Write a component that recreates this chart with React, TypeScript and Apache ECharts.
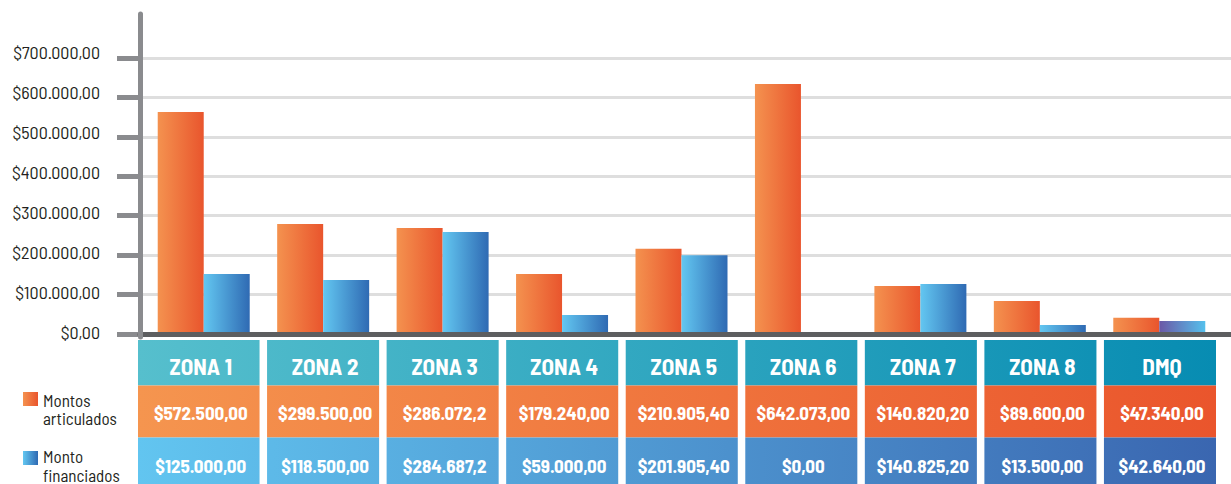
import React, { useEffect, useRef } from "react";
import * as echarts from "echarts";

// ---------- data ----------
const categories = ["ZONA 1", "ZONA 2", "ZONA 3", "ZONA 4", "ZONA 5", "ZONA 6", "ZONA 7", "ZONA 8", "DMQ"];
const seriesNames = ["Montos articulados", "Monto financiados"];
const legendLabels = ["Montos\narticulados", "Monto\nfinanciados"];

// bar heights as drawn in the picture
const articuladosBars = [563000, 279000, 269000, 152000, 216000, 634000, 122000, 84000, 41000];
const financiadosBars = [152000, 137000, 259000, 48000, 200000, 4000, 127000, 23000, 33000];

// table texts
const articuladosLabels = ["$572.500,00", "$299.500,00", "$286.072,2", "$179.240,00", "$210.905,40", "$642.073,00", "$140.820,20", "$89.600,00", "$47.340,00"];
const financiadosLabels = ["$125.000,00", "$118.500,00", "$284.687,2", "$59.000,00", "$201.905,40", "$0,00", "$140.825,20", "$13.500,00", "$42.640,00"];

const yMin = 0;
const yMax = 700000;
const yInterval = 100000;

// ---------- styles ----------
const FONT = "'Barlow Semi Condensed', 'Roboto Condensed', 'Liberation Sans Narrow', 'DejaVu Sans Condensed', 'Arial Narrow', sans-serif";
const TEXT_DARK = "#231f20";
const AXIS_GRAY = "#8a8b8e";
const BASE_DARK = "#5d5e60";
const GRID_GRAY = "#dedede";
const purpleBarIndices = [5, 8];

const hGrad = (a: string, b: string) =>
  new echarts.graphic.LinearGradient(0, 0, 1, 0, [
    { offset: 0, color: a },
    { offset: 1, color: b },
  ]);

const orangeBar = () => hGrad("#f4924f", "#e9552d");
const blueBar = () => hGrad("#63c7f1", "#2f6ab3");
const purpleBar = () => hGrad("#6b58a6", "#55c0ec");

function money(v: number): string {
  const s = Math.round(v).toString().replace(/\B(?=(\d{3})+(?!\d))/g, ".");
  return "$" + s + ",00";
}

export default function App() {
  const ref = useRef<HTMLDivElement>(null);

  useEffect(() => {
    if (!ref.current) return;
    const chart = echarts.init(ref.current, null, { renderer: "svg" });

    const rowColors = [
      ["#56bfcd", "#078cb2"],
      ["#f5954f", "#ea552c"],
      ["#62c5f0", "#3a66b0"],
    ];

    const renderTable = (params: any, api: any) => {
      const i = api.value(0);
      const cx = api.coord([i, 0])[0];
      const bw = api.size([1, 0])[0];
      const cs = params.coordSys;
      const left = i === 0 ? cx - bw / 2 - 2 : cx - bw / 2 + 7.5;
      const right = cx + bw / 2;
      const gx0 = cs.x - 2;
      const gx1 = cs.x + cs.width;
      const top = cs.y;
      const rowH = [45.5, 52, 50];
      const textDy = [25.5, 27, 27.5];
      const texts = [categories[i], articuladosLabels[i], financiadosLabels[i]];
      const sizes = [23, 19, 19];
      const children: any[] = [];
      let y = top;
      const tcx = (left + right) / 2;
      for (let r = 0; r < 3; r++) {
        children.push({
          type: "rect",
          shape: { x: left, y: y, width: right - left, height: rowH[r] },
          style: {
            fill: new echarts.graphic.LinearGradient(gx0, 0, gx1, 0, [
              { offset: 0, color: rowColors[r][0] },
              { offset: 1, color: rowColors[r][1] },
            ], true),
          },
        });
        children.push({
          type: "text",
          style: {
            text: texts[r],
            x: tcx + 2,
            y: y + textDy[r],
            fill: "#ffffff",
            fontFamily: FONT,
            fontWeight: "bold",
            fontSize: sizes[r],
            align: "center",
            verticalAlign: "middle",
          },
        });
        y += rowH[r];
      }
      return { type: "group", children };
    };

    const option: any = {
      animation: false,
      backgroundColor: "#ffffff",
      grid: [
        { left: 144, right: 12, top: 58, bottom: 150 },   // bars
        { left: 140, right: 0, top: 58, bottom: 150 },    // grid lines + baseline
        { left: 140, right: 0, top: 14, bottom: 147 },    // vertical axis line
        { left: 140, right: 15, top: 340, bottom: 0 },    // table
        { left: 140, right: 0, top: 51.5, bottom: 152 },  // y labels
      ],
      xAxis: [
        {
          type: "category",
          gridIndex: 0,
          data: categories,
          axisLine: { show: false },
          axisTick: { show: false },
          axisLabel: { show: false },
        },
        {
          type: "value",
          gridIndex: 1,
          min: 0,
          max: 1,
          offset: 3,
          z: 5,
          axisLine: { show: true, lineStyle: { color: BASE_DARK, width: 5 } },
          axisTick: { show: false },
          axisLabel: { show: false },
          splitLine: { show: false },
        },
        { type: "value", gridIndex: 2, min: 0, max: 1, show: false },
        { type: "category", gridIndex: 3, data: categories, show: false },
        { type: "value", gridIndex: 4, min: 0, max: 1, show: false },
      ],
      yAxis: [
        {
          type: "value",
          gridIndex: 0,
          min: yMin,
          max: yMax,
          interval: yInterval,
          show: false,
        },
        {
          type: "value",
          gridIndex: 1,
          min: yMin,
          max: yMax,
          interval: yInterval,
          axisLine: { show: false },
          axisTick: { show: true, length: 23, lineStyle: { color: AXIS_GRAY, width: 5 } },
          axisLabel: { show: false },
          splitLine: { show: true, lineStyle: { color: GRID_GRAY, width: 3 } },
        },
        {
          type: "value",
          gridIndex: 2,
          min: 0,
          max: 1,
          z: 6,
          axisLine: { show: true, lineStyle: { color: AXIS_GRAY, width: 5 } },
          axisTick: { show: false },
          axisLabel: { show: false },
          splitLine: { show: false },
        },
        { type: "value", gridIndex: 3, min: 0, max: 1, show: false },
        {
          type: "value",
          gridIndex: 4,
          min: yMin,
          max: yMax,
          interval: yInterval,
          axisLine: { show: false },
          axisTick: { show: false },
          splitLine: { show: false },
          axisLabel: {
            margin: 40,
            color: TEXT_DARK,
            fontFamily: FONT,
            fontSize: 18,
            formatter: (v: number) => money(v),
          },
        },
      ],
      series: [
        {
          name: seriesNames[0],
          type: "bar",
          xAxisIndex: 0,
          yAxisIndex: 0,
          barWidth: 46,
          barGap: "0%",
          itemStyle: { color: orangeBar() },
          data: articuladosBars,
        },
        {
          name: seriesNames[1],
          type: "bar",
          xAxisIndex: 0,
          yAxisIndex: 0,
          barWidth: 46,
          barGap: "0%",
          itemStyle: { color: blueBar() },
          data: financiadosBars.map((v, i) =>
            purpleBarIndices.includes(i) ? { value: v, itemStyle: { color: purpleBar() } } : v
          ),
        },
        {
          type: "custom",
          xAxisIndex: 3,
          yAxisIndex: 3,
          silent: true,
          renderItem: renderTable,
          encode: { x: 0, y: 1 },
          data: categories.map((_, i) => [i, 0]),
        },
      ],
      graphic: [
        {
          type: "rect",
          shape: { x: 23, y: 392, width: 15, height: 14 },
          style: { fill: orangeBar() },
        },
        {
          type: "text",
          x: 43,
          y: 390.5,
          style: {
            text: legendLabels[0],
            fill: TEXT_DARK,
            fontFamily: FONT,
            fontSize: 17,
            lineHeight: 18.5,
            align: "left",
            verticalAlign: "top",
          },
        },
        {
          type: "rect",
          shape: { x: 23, y: 451, width: 15, height: 14 },
          style: { fill: blueBar() },
        },
        {
          type: "text",
          x: 43,
          y: 447,
          style: {
            text: legendLabels[1],
            fill: TEXT_DARK,
            fontFamily: FONT,
            fontSize: 17,
            lineHeight: 18.5,
            align: "left",
            verticalAlign: "top",
          },
        },
      ],
    };

    chart.setOption(option);
    return () => chart.dispose();
  }, []);

  return (
    <div
      ref={ref}
      style={{ position: "fixed", left: 0, top: 0, width: 1231, height: 484, background: "#fff" }}
    />
  );
}
